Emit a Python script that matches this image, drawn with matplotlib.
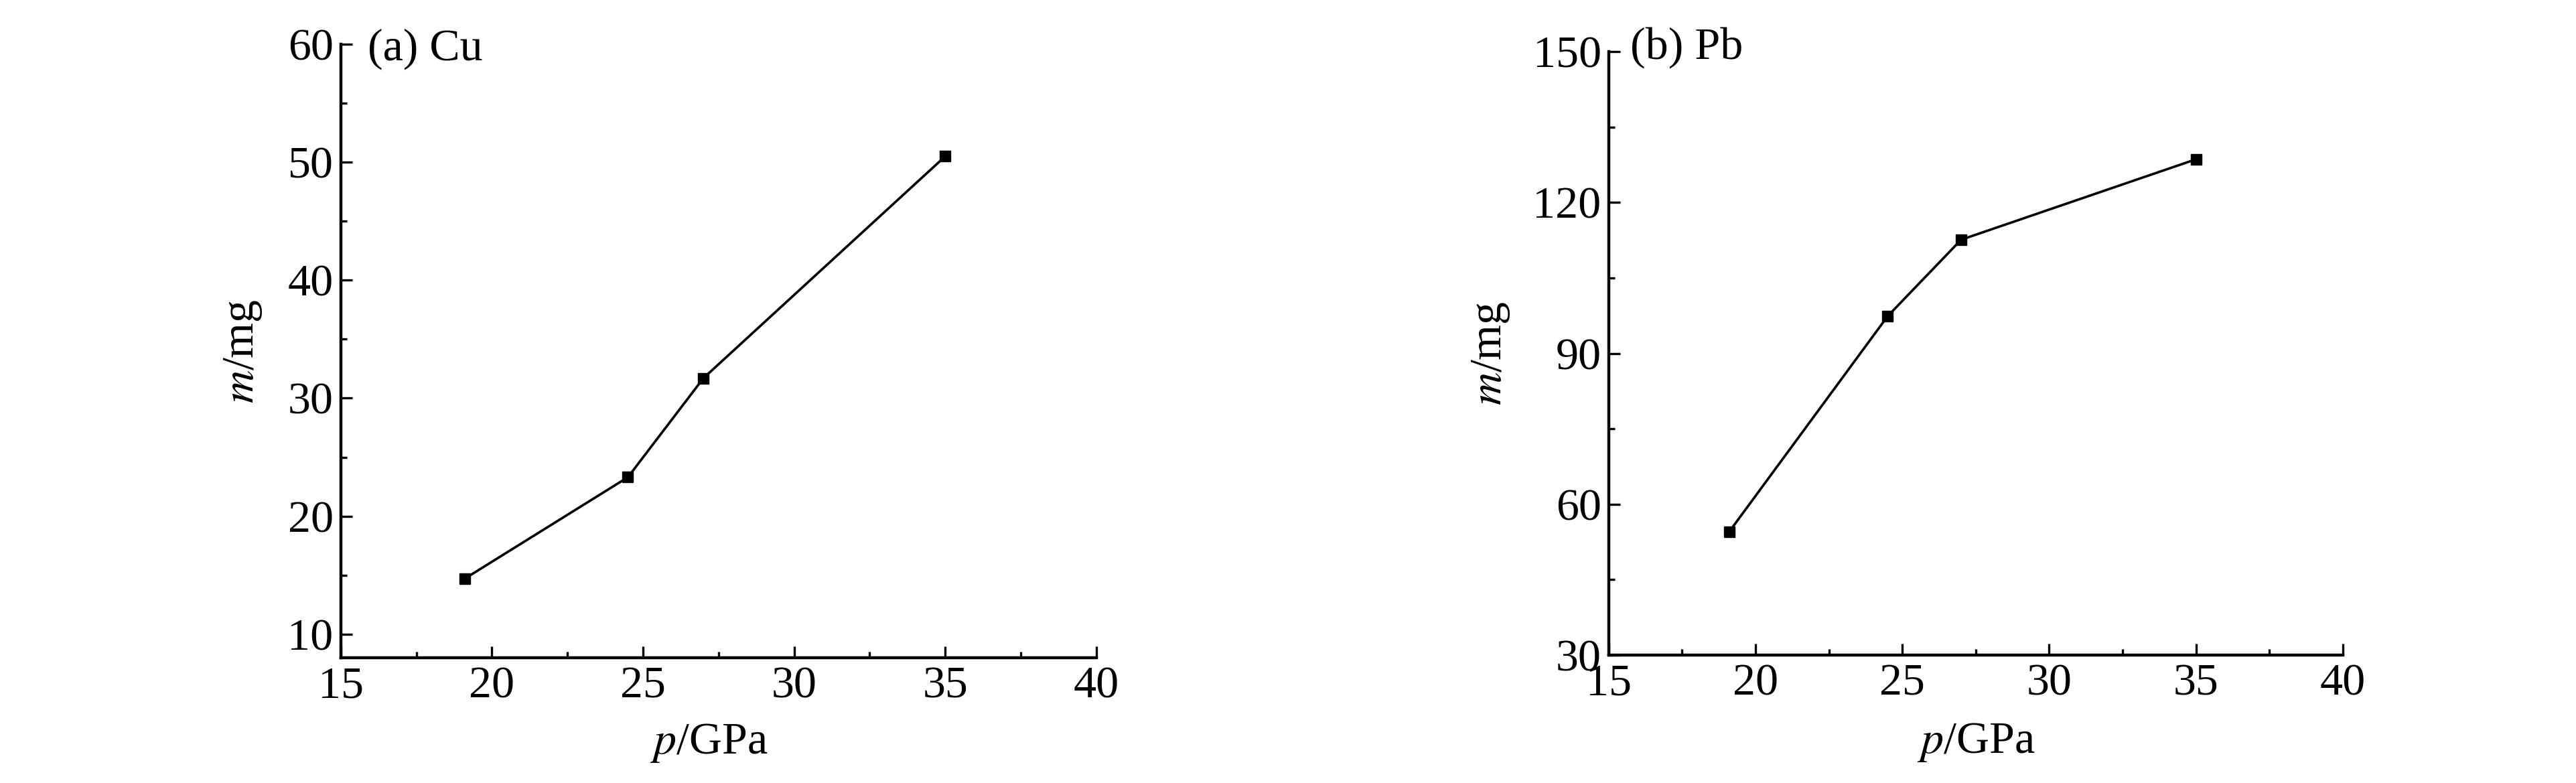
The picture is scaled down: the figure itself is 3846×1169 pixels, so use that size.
import matplotlib
matplotlib.use("Agg")
import matplotlib.pyplot as plt
from matplotlib.ticker import MultipleLocator

# pressure (GPa) and mass (mg)
p_cu = [19.1, 24.5, 27.0, 35.0]
m_cu = [14.7, 23.3, 31.7, 50.5]

p_pb = [19.1, 24.5, 27.0, 35.0]
m_pb = [54.5, 97.4, 112.6, 128.6]

panel_labels = ["(a) Cu", "(b) Pb"]

plt.rcParams["font.family"] = ["Liberation Serif", "DejaVu Serif"]
plt.rcParams["mathtext.fontset"] = "stix"

FS = 49

################################################################

def style_axes(ax, ylim, ymajor, yminor):
    ax.set_xlim(15, 40)
    ax.set_ylim(*ylim)
    ax.xaxis.set_major_locator(MultipleLocator(5))
    ax.xaxis.set_minor_locator(MultipleLocator(2.5))
    ax.yaxis.set_major_locator(MultipleLocator(ymajor))
    ax.yaxis.set_minor_locator(MultipleLocator(yminor))
    ax.spines["top"].set_visible(False)
    ax.spines["right"].set_visible(False)
    for s in ("left", "bottom"):
        ax.spines[s].set_linewidth(3.2)
    ax.tick_params(which="both", direction="in", width=2.4, labelsize=FS,
                   top=False, right=False)
    ax.tick_params(which="major", length=12)
    ax.tick_params(which="minor", length=6.5)
    ax.tick_params(axis="x", pad=9)
    ax.tick_params(axis="y", pad=8)

################################################################

fig = plt.figure(figsize=(38.46, 11.69), dpi=100)
ax1 = fig.add_axes([0.1323, 0.160, 0.2933, 0.7835])
ax2 = fig.add_axes([0.6245, 0.1634, 0.2850, 0.7706])

ax1.plot(p_cu, m_cu, color="black", lw=2.6, marker="s", ms=12)
style_axes(ax1, (8, 60), 10, 5)

ax2.plot(p_pb, m_pb, color="black", lw=2.6, marker="s", ms=12)
style_axes(ax2, (30, 150), 30, 15)

ax1.text(0.036, 0.974, panel_labels[0], transform=ax1.transAxes,
         fontsize=FS, va="baseline", ha="left")
ax2.text(0.029, 0.988, panel_labels[1], transform=ax2.transAxes,
         fontsize=FS, va="baseline", ha="left")

for ax, ylx, xlx, xly in ((ax1, -0.129, 0.487, -0.139),
                          (ax2, -0.160, 0.500, -0.145)):
    ax.set_xlabel("$p$/GPa", fontsize=FS)
    ax.set_ylabel("$m$/mg", fontsize=FS)
    ax.xaxis.set_label_coords(xlx, xly)
    ax.yaxis.set_label_coords(ylx, 0.5)
    ax.xaxis.label.set_va("center")
    ax.yaxis.label.set_va("center")

fig.savefig("out.png", dpi=100)
